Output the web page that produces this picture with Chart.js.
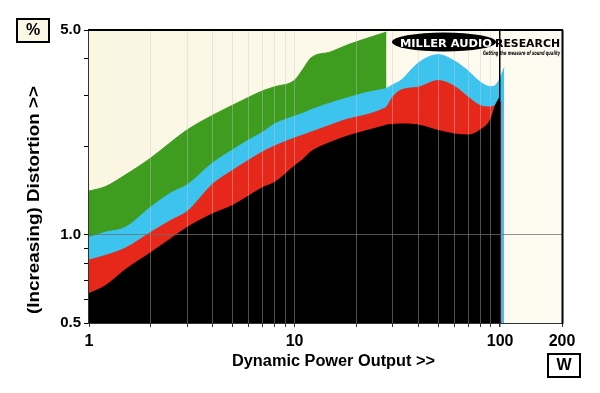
<!DOCTYPE html>
<html>
<head>
<meta charset="utf-8">
<script src="https://cdn.jsdelivr.net/npm/chart.js@4.4.0/dist/chart.umd.min.js"></script>
<style>
  html, body { margin: 0; padding: 0; background: #fff; }
</style>
</head>
<body>
<canvas id="chart" width="600" height="393"></canvas>
<script>
// power output in watts, shared by all four traces
const power = [1, 1.2, 1.5, 2, 2.5, 3, 4, 5, 6, 7, 8, 10, 11, 12, 15, 18, 22, 27, 28, 30, 33, 40, 50, 60, 70, 80, 90, 95, 99.5, 101.5, 104.5];

// distortion (%), null where a trace has ended
const green = [1.41, 1.46, 1.60, 1.83, 2.07, 2.28, 2.56, 2.77, 2.95, 3.10, 3.20, 3.37, 3.68, 4.01, 4.21, 4.44, 4.66, 4.88, 4.92,
  null, null, null, null, null, null, null, null, null, null, null, null];
const blue = [0.98, 1.02, 1.06, 1.245, 1.39, 1.48, 1.76, 1.95, 2.11, 2.24, 2.39, 2.54, 2.60, 2.67, 2.82, 2.93, 3.05, 3.14, 3.16,
  3.25, 3.37, 3.86, 4.12, 3.92, 3.62, 3.32, 3.20, 3.24, 3.40, 3.51, 3.71];
const red = [0.82, 0.85, 0.90, 1.02, 1.12, 1.20, 1.49, 1.66, 1.80, 1.92, 2.01, 2.14, 2.19, 2.24, 2.37, 2.48, 2.56, 2.69, 2.73,
  2.95, 3.12, 3.19, 3.36, 3.21, 2.95, 2.76, 2.73, 2.77, 2.82, 2.84, null];
const black = [0.63, 0.67, 0.76, 0.87, 0.97, 1.06, 1.18, 1.26, 1.36, 1.45, 1.51, 1.72, 1.81, 1.92, 2.07, 2.17, 2.26, 2.35, 2.37,
  2.38, 2.39, 2.37, 2.27, 2.21, 2.19, 2.28, 2.48, 2.77, 2.95, null, null];

const xTicks = [1, 2, 3, 4, 5, 6, 7, 8, 9, 10, 20, 30, 40, 50, 60, 70, 80, 90, 100, 200];
const xLabels = [1, 10, 100, 200];
const yTicks = [0.5, 0.6, 0.7, 0.8, 0.9, 1, 2, 3, 4, 5];
const yLabels = { 0.5: '0.5', 1: '1.0', 5: '5.0' };

const FONT = '"Liberation Sans", Arial, sans-serif';

function pts(vals) {
  const out = [];
  power.forEach((p, i) => { if (vals[i] != null) out.push({ x: p, y: vals[i] }); });
  return out;
}

function area(data, color, order) {
  return {
    data: pts(data), backgroundColor: color, borderColor: color, borderWidth: 1,
    fill: 'start', pointRadius: 0, cubicInterpolationMode: 'monotone', order: order
  };
}

// draw text squeezed/stretched to a given width
function fitText(ctx, text, x, y, width, font, color) {
  ctx.save();
  ctx.font = font;
  ctx.fillStyle = color;
  ctx.textAlign = 'left';
  const w = ctx.measureText(text).width;
  ctx.translate(x, y);
  ctx.scale(width / w, 1);
  ctx.fillText(text, 0, 0);
  ctx.restore();
}

const decor = {
  id: 'decor',
  beforeDraw(chart) {
    const ctx = chart.ctx, a = chart.chartArea;
    ctx.save();
    ctx.fillStyle = '#fff';
    ctx.fillRect(0, 0, chart.width, chart.height);
    const g = ctx.createLinearGradient(a.left, 0, a.right, 0);
    g.addColorStop(0, '#faf6e2');
    g.addColorStop(1, '#fefcf2');
    ctx.fillStyle = g;
    ctx.fillRect(a.left, a.top, a.right - a.left, a.bottom - a.top);
    ctx.restore();
  },
  afterDraw(chart) {
    const ctx = chart.ctx, a = chart.chartArea;
    ctx.save();
    // frame
    ctx.strokeStyle = '#333';
    ctx.lineWidth = 1;
    ctx.beginPath();
    ctx.moveTo(a.left - 0.5, a.top); ctx.lineTo(a.left - 0.5, a.bottom + 0.5);
    ctx.lineTo(a.right, a.bottom + 0.5);
    ctx.stroke();
    ctx.strokeStyle = '#000';
    ctx.lineWidth = 2;
    ctx.beginPath();
    ctx.moveTo(a.left - 1, a.top); ctx.lineTo(a.right + 1, a.top);
    ctx.moveTo(a.right + 0.5, a.top); ctx.lineTo(a.right + 0.5, a.bottom + 1);
    ctx.stroke();

    // unit boxes
    ctx.lineWidth = 2;
    ctx.fillStyle = '#fbf8e6';
    ctx.fillRect(17, 19, 32, 23);
    ctx.strokeRect(17, 19, 32, 23);
    ctx.fillStyle = '#fff';
    ctx.fillRect(548, 354, 32, 23);
    ctx.strokeRect(548, 354, 32, 23);
    ctx.fillStyle = '#000';
    ctx.font = 'bold 16px ' + FONT;
    ctx.textAlign = 'center';
    ctx.textBaseline = 'middle';
    ctx.fillText('%', 33, 31);
    ctx.fillText('W', 564, 366);

    // axis titles
    ctx.textBaseline = 'middle';
    fitText(ctx, 'Dynamic Power Output >>', 232, 362, 203, 'bold 16px ' + FONT, '#000');
    ctx.save();
    ctx.translate(35, 200);
    ctx.rotate(-Math.PI / 2);
    fitText(ctx, '(Increasing) Distortion >>', -114, 0, 228, 'bold 16px ' + FONT, '#000');
    ctx.restore();

    // logo
    ctx.fillStyle = '#000';
    ctx.beginPath();
    ctx.ellipse(444, 42, 52, 9.5, 0, 0, Math.PI * 2);
    ctx.fill();
    ctx.textBaseline = 'alphabetic';
    fitText(ctx, 'MILLER AUDIO', 400, 47, 92, 'bold 10.5px "DejaVu Sans"', '#fff');
    fitText(ctx, 'RESEARCH', 495, 47, 65, 'bold 10.5px "DejaVu Sans"', '#000');
    fitText(ctx, 'Getting the measure of sound quality', 483, 55, 77, 'italic bold 6px "DejaVu Sans"', '#000');
    ctx.restore();
  }
};

new Chart(document.getElementById('chart'), {
  type: 'line',
  data: {
    datasets: [
      area(black, '#000000', 1),
      area(red, '#e6281b', 2),
      area(blue, '#3cc4ef', 3),
      area(green, '#3e9c1f', 4)
    ]
  },
  options: {
    responsive: false,
    animation: false,
    devicePixelRatio: 1,
    layout: { padding: { top: 30, right: 38, left: 0, bottom: 0 } },
    plugins: { legend: { display: false }, tooltip: { enabled: false } },
    scales: {
      x: {
        type: 'logarithmic', min: 1, max: 200, z: 1,
        afterBuildTicks: s => { s.ticks = xTicks.map(v => ({ value: v })); },
        afterFit: s => { s.height = 70; },
        border: { display: false },
        grid: {
          z: 1,
          color: c => {
            const v = c.tick && c.tick.value;
            if (v === 1 || v === 200) return 'rgba(0,0,0,0)';
            if (v === 100) return '#000';
            return 'rgba(200,200,200,0.4)';
          },
          lineWidth: c => (c.tick && c.tick.value === 100 ? 1.5 : 1),
          tickColor: '#333',
          tickLength: 4
        },
        ticks: {
          autoSkip: false, maxRotation: 0, minRotation: 0, padding: 5, color: '#000',
          font: { family: FONT, size: 16, weight: 'bold' },
          callback: v => (xLabels.includes(v) ? String(v) : '')
        }
      },
      y: {
        type: 'logarithmic', min: 0.5, max: 5, z: 1,
        afterBuildTicks: s => { s.ticks = yTicks.map(v => ({ value: v })); },
        afterFit: s => { s.width = 89; },
        border: { display: false },
        grid: {
          z: 1,
          color: c => (c.tick && c.tick.value === 1 ? 'rgba(110,110,110,0.75)' : 'rgba(0,0,0,0)'),
          tickColor: '#000',
          tickLength: 5
        },
        ticks: {
          autoSkip: false, padding: 3, color: '#000',
          font: { family: FONT, size: 15, weight: 'bold' },
          callback: v => yLabels[v] || ''
        }
      }
    }
  },
  plugins: [decor]
});
</script>
</body>
</html>
